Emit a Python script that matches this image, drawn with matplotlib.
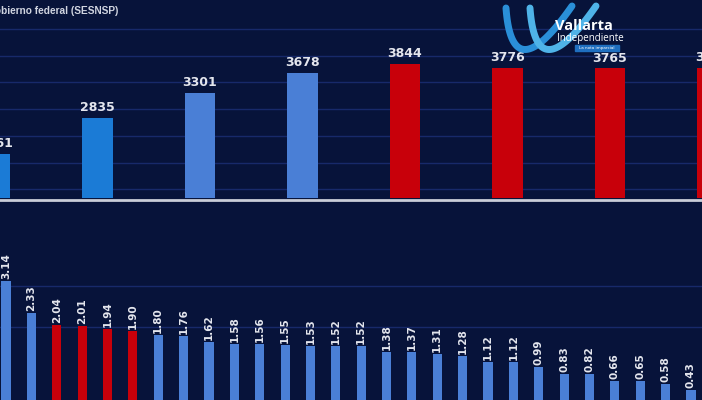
import numpy as np
import matplotlib
matplotlib.use("Agg")
import matplotlib.pyplot as plt
from matplotlib.patches import Rectangle

# top panel: homicidios (partial view)
top_vals = [2161, 2835, 3301, 3678, 3844, 3776, 3765, 3770]
top_colors = ['#1b7bd6', '#1b7bd6', '#4a7fd6', '#4a7fd6',
              '#c8000a', '#c8000a', '#c8000a', '#c8000a']

# bottom panel: tasas
bot_vals = [3.14, 2.33, 2.04, 2.01, 1.94, 1.90, 1.80, 1.76, 1.62, 1.58,
            1.56, 1.55, 1.53, 1.52, 1.52, 1.38, 1.37, 1.31, 1.28, 1.12,
            1.12, 0.99, 0.83, 0.82, 0.66, 0.65, 0.58, 0.43]
red_idx = [2, 3, 4, 5]

BG = '#07133a'
GRID = '#17296a'
TXT = '#e4e6ee'

fig = plt.figure(figsize=(7.02, 4.0), dpi=100)
fig.patch.set_facecolor(BG)

#Top axes
ax1 = fig.add_axes([0, 0.505, 1, 0.495])
ax1.set_facecolor(BG)
x1 = np.arange(len(top_vals))
ax1.bar(x1, top_vals, width=0.30, color=top_colors, zorder=3)
for xi, v in zip(x1, top_vals):
    ax1.text(xi, v + 70, str(v), ha='center', va='bottom', fontsize=9,
             fontweight='bold', color=TXT, zorder=4)
ax1.set_xlim(5 / 102.5, 707 / 102.5)
ax1.set_ylim(1340, 5041)
ax1.set_yticks(np.arange(1500, 5000, 500))
ax1.grid(axis='y', color=GRID, lw=1, zorder=0)
ax1.tick_params(left=False, bottom=False, labelleft=False, labelbottom=False)
for s in ax1.spines.values():
    s.set_visible(False)
ax1.text(118 / 702, 1 - 11 / 400, 'Gobierno federal (SESNSP)', transform=fig.transFigure,
         ha='right', va='center', fontsize=7.3, fontweight='bold', color='#d0d4e0',
         family='Liberation Sans')

#Bottom axes
ax2 = fig.add_axes([0, 0, 1, 0.495])
ax2.set_facecolor(BG)
x2 = np.arange(len(bot_vals))
cols = ['#c8000a' if i in red_idx else '#4a7fd6' for i in range(len(bot_vals))]
ax2.bar(x2, bot_vals, width=0.36, color=cols, zorder=3)
for xi, v in zip(x2, bot_vals):
    ax2.text(xi, v + 0.05, '%.2f' % v, ha='center', va='bottom', rotation=90,
             fontsize=7.5, fontweight='bold', color=TXT, zorder=4)
ax2.set_xlim(-6 / 25.37, 696 / 25.37)
ax2.set_ylim(0.18, 5.09)
ax2.set_yticks([2, 3])
ax2.grid(axis='y', color=GRID, lw=1, zorder=0)
ax2.tick_params(left=False, bottom=False, labelleft=False, labelbottom=False)
for s in ax2.spines.values():
    s.set_visible(False)

# separator between panels
fig.add_artist(plt.Line2D([0, 1], [0.5, 0.5], transform=fig.transFigure,
                          color='#c9cdd8', lw=2))

# logo
def px(x, y):
    return x / 702, 1 - y / 400

t = np.linspace(0, 1, 80)
for dx, c in [(0, '#2a8fd8'), (24, '#4fb3e8')]:
    p0, p1, p2 = (506 + dx, 8), (512 + dx, 92), (572 + dx, 6)
    xs = (1 - t) ** 2 * p0[0] + 2 * (1 - t) * t * p1[0] + t ** 2 * p2[0]
    ys = (1 - t) ** 2 * p0[1] + 2 * (1 - t) * t * p1[1] + t ** 2 * p2[1]
    fx, fy = px(xs, ys)
    fig.add_artist(plt.Line2D(fx, fy, transform=fig.transFigure, color=c,
                              lw=5, solid_capstyle='round', zorder=10))
fig.text(*px(555, 26), 'Vallarta', fontsize=10.5, fontweight='bold', color='white',
         va='center', ha='left', zorder=11, family='Open Sans')
fig.text(*px(557, 38), 'Independiente', fontsize=7, color='white',
         va='center', ha='left', zorder=11, family='Open Sans')
bx, by = px(575, 51)
fig.add_artist(Rectangle((bx, by), 44 / 702, 6 / 400, transform=fig.transFigure,
                         color='#1f6fc0', zorder=11))
fig.text(*px(597, 48), 'La nota imparcial', fontsize=3, color='white',
         va='center', ha='center', zorder=12)

fig.savefig('out.png', dpi=100, facecolor=BG)
